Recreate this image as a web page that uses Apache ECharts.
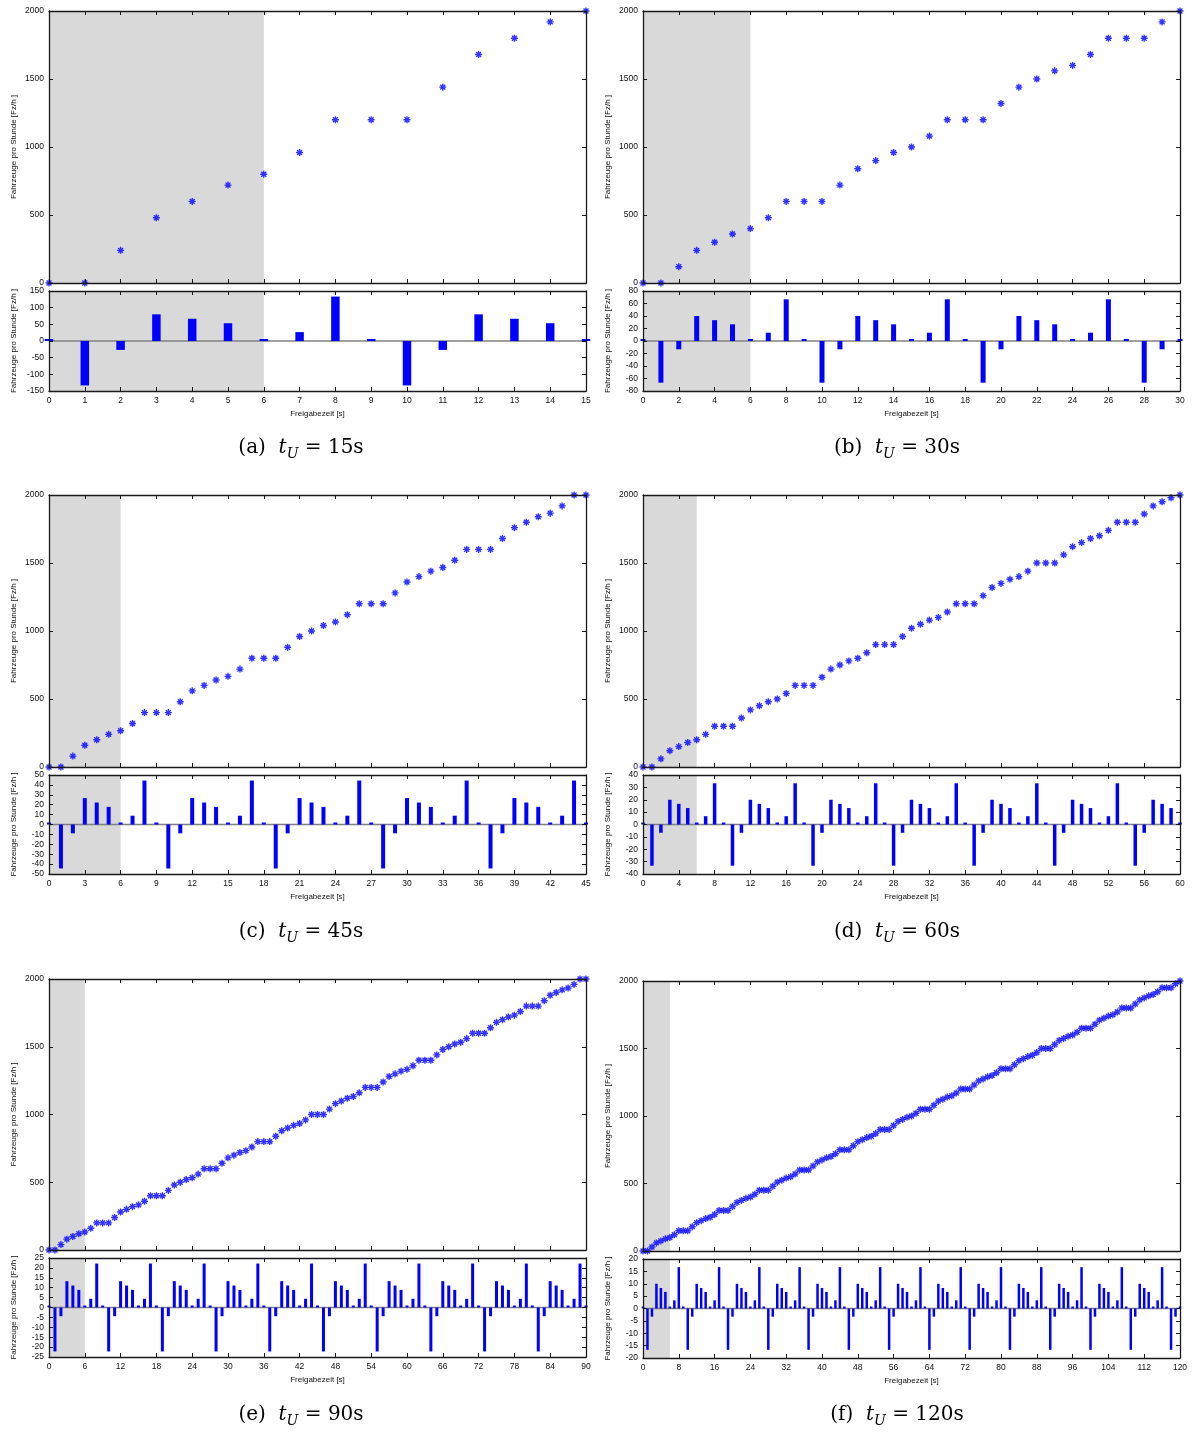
<!DOCTYPE html>
<html>
<head>
<meta charset="utf-8">
<script src="https://cdn.jsdelivr.net/npm/echarts@6/dist/echarts.min.js"></script>
<style>
  html, body { margin: 0; padding: 0; background: #fff; }
  #chart { width: 1192px; height: 1432px; }
</style>
</head>
<body>
<div id="chart"></div>
<script>
// Umlaufzeiten t_U [s] und Beschriftung der Teilbilder
var cycles = [15, 30, 45, 60, 90, 120];
var letters = ['a', 'b', 'c', 'd', 'e', 'f'];

// Fahrzeuge pro Stunde je Freigabezeit 0..t_U (oberes Diagramm)
var flow15 = [0, 0, 240, 480, 600, 720, 800, 960, 1200, 1200, 1200, 1440, 1680, 1800, 1920, 2000];
var flow30 = [0, 0, 120, 240, 300, 360, 400, 480, 600,
  600, 600, 720, 840, 900, 960, 1000, 1080, 1200,
  1200, 1200, 1320, 1440, 1500, 1560, 1600, 1680, 1800,
  1800, 1800, 1920, 2000];
var flow45 = [0, 0, 80, 160, 200, 240, 266.7, 320, 400,
  400, 400, 480, 560, 600, 640, 666.7, 720, 800,
  800, 800, 880, 960, 1000, 1040, 1066.7, 1120, 1200,
  1200, 1200, 1280, 1360, 1400, 1440, 1466.7, 1520, 1600,
  1600, 1600, 1680, 1760, 1800, 1840, 1866.7, 1920, 2000,
  2000];
var flow60 = [0, 0, 60, 120, 150, 180, 200, 240, 300,
  300, 300, 360, 420, 450, 480, 500, 540, 600,
  600, 600, 660, 720, 750, 780, 800, 840, 900,
  900, 900, 960, 1020, 1050, 1080, 1100, 1140, 1200,
  1200, 1200, 1260, 1320, 1350, 1380, 1400, 1440, 1500,
  1500, 1500, 1560, 1620, 1650, 1680, 1700, 1740, 1800,
  1800, 1800, 1860, 1920, 1950, 1980, 2000];
var flow90 = [0, 0, 40, 80, 100, 120, 133.3, 160, 200,
  200, 200, 240, 280, 300, 320, 333.3, 360, 400,
  400, 400, 440, 480, 500, 520, 533.3, 560, 600,
  600, 600, 640, 680, 700, 720, 733.3, 760, 800,
  800, 800, 840, 880, 900, 920, 933.3, 960, 1000,
  1000, 1000, 1040, 1080, 1100, 1120, 1133.3, 1160, 1200,
  1200, 1200, 1240, 1280, 1300, 1320, 1333.3, 1360, 1400,
  1400, 1400, 1440, 1480, 1500, 1520, 1533.3, 1560, 1600,
  1600, 1600, 1640, 1680, 1700, 1720, 1733.3, 1760, 1800,
  1800, 1800, 1840, 1880, 1900, 1920, 1933.3, 1960, 2000,
  2000];
var flow120 = [0, 0, 30, 60, 75, 90, 100, 120, 150,
  150, 150, 180, 210, 225, 240, 250, 270, 300,
  300, 300, 330, 360, 375, 390, 400, 420, 450,
  450, 450, 480, 510, 525, 540, 550, 570, 600,
  600, 600, 630, 660, 675, 690, 700, 720, 750,
  750, 750, 780, 810, 825, 840, 850, 870, 900,
  900, 900, 930, 960, 975, 990, 1000, 1020, 1050,
  1050, 1050, 1080, 1110, 1125, 1140, 1150, 1170, 1200,
  1200, 1200, 1230, 1260, 1275, 1290, 1300, 1320, 1350,
  1350, 1350, 1380, 1410, 1425, 1440, 1450, 1470, 1500,
  1500, 1500, 1530, 1560, 1575, 1590, 1600, 1620, 1650,
  1650, 1650, 1680, 1710, 1725, 1740, 1750, 1770, 1800,
  1800, 1800, 1830, 1860, 1875, 1890, 1900, 1920, 1950,
  1950, 1950, 1980, 2000];

// Abweichung Fahrzeuge pro Stunde (unteres Diagramm)
var dev15 = [0, -133.3, -26.7, 80, 66.7, 53.3, 0, 26.7, 133.3, 0, -133.3, -26.7, 80, 66.7, 53.3, 0];
var dev30 = [0, -66.7, -13.3, 40, 33.3, 26.7, 0, 13.3, 66.7,
  0, -66.7, -13.3, 40, 33.3, 26.7, 0, 13.3, 66.7,
  0, -66.7, -13.3, 40, 33.3, 26.7, 0, 13.3, 66.7,
  0, -66.7, -13.3, 0];
var dev45 = [0, -44.4, -8.9, 26.7, 22.2, 17.8, 0, 8.9, 44.4,
  0, -44.4, -8.9, 26.7, 22.2, 17.8, 0, 8.9, 44.4,
  0, -44.4, -8.9, 26.7, 22.2, 17.8, 0, 8.9, 44.4,
  0, -44.4, -8.9, 26.7, 22.2, 17.8, 0, 8.9, 44.4,
  0, -44.4, -8.9, 26.7, 22.2, 17.8, 0, 8.9, 44.4,
  0];
var dev60 = [0, -33.3, -6.7, 20, 16.7, 13.3, 0, 6.7, 33.3,
  0, -33.3, -6.7, 20, 16.7, 13.3, 0, 6.7, 33.3,
  0, -33.3, -6.7, 20, 16.7, 13.3, 0, 6.7, 33.3,
  0, -33.3, -6.7, 20, 16.7, 13.3, 0, 6.7, 33.3,
  0, -33.3, -6.7, 20, 16.7, 13.3, 0, 6.7, 33.3,
  0, -33.3, -6.7, 20, 16.7, 13.3, 0, 6.7, 33.3,
  0, -33.3, -6.7, 20, 16.7, 13.3, 0];
var dev90 = [0, -22.2, -4.4, 13.3, 11.1, 8.9, 0, 4.4, 22.2,
  0, -22.2, -4.4, 13.3, 11.1, 8.9, 0, 4.4, 22.2,
  0, -22.2, -4.4, 13.3, 11.1, 8.9, 0, 4.4, 22.2,
  0, -22.2, -4.4, 13.3, 11.1, 8.9, 0, 4.4, 22.2,
  0, -22.2, -4.4, 13.3, 11.1, 8.9, 0, 4.4, 22.2,
  0, -22.2, -4.4, 13.3, 11.1, 8.9, 0, 4.4, 22.2,
  0, -22.2, -4.4, 13.3, 11.1, 8.9, 0, 4.4, 22.2,
  0, -22.2, -4.4, 13.3, 11.1, 8.9, 0, 4.4, 22.2,
  0, -22.2, -4.4, 13.3, 11.1, 8.9, 0, 4.4, 22.2,
  0, -22.2, -4.4, 13.3, 11.1, 8.9, 0, 4.4, 22.2,
  0];
var dev120 = [0, -16.7, -3.3, 10, 8.3, 6.7, 0, 3.3, 16.7,
  0, -16.7, -3.3, 10, 8.3, 6.7, 0, 3.3, 16.7,
  0, -16.7, -3.3, 10, 8.3, 6.7, 0, 3.3, 16.7,
  0, -16.7, -3.3, 10, 8.3, 6.7, 0, 3.3, 16.7,
  0, -16.7, -3.3, 10, 8.3, 6.7, 0, 3.3, 16.7,
  0, -16.7, -3.3, 10, 8.3, 6.7, 0, 3.3, 16.7,
  0, -16.7, -3.3, 10, 8.3, 6.7, 0, 3.3, 16.7,
  0, -16.7, -3.3, 10, 8.3, 6.7, 0, 3.3, 16.7,
  0, -16.7, -3.3, 10, 8.3, 6.7, 0, 3.3, 16.7,
  0, -16.7, -3.3, 10, 8.3, 6.7, 0, 3.3, 16.7,
  0, -16.7, -3.3, 10, 8.3, 6.7, 0, 3.3, 16.7,
  0, -16.7, -3.3, 10, 8.3, 6.7, 0, 3.3, 16.7,
  0, -16.7, -3.3, 10, 8.3, 6.7, 0, 3.3, 16.7,
  0, -16.7, -3.3, 0];

var flows = [flow15, flow30, flow45, flow60, flow90, flow120];
var devs = [dev15, dev30, dev45, dev60, dev90, dev120];

// Achsteilung
var xSteps = [1, 2, 3, 4, 6, 8];
var flowMax = 2000, flowStep = 500;
var devMax = [150, 80, 50, 40, 25, 20];
var devSteps = [50, 20, 10, 10, 5, 5];
var shade = [0, 6]; // grau hinterlegter Bereich

// Lage der Teilbilder auf der Seite
var plotW = 537;
var layout = [
  {left: 49,  t1: 11,  h1: 272, t2: 291,  h2: 100, cx: 301, cy: 448, bw: 8.5},
  {left: 643, t1: 11,  h1: 272, t2: 291,  h2: 100, cx: 897, cy: 448, bw: 5},
  {left: 49,  t1: 495, h1: 272, t2: 775,  h2: 99,  cx: 301, cy: 932, bw: 4},
  {left: 643, t1: 495, h1: 272, t2: 775,  h2: 99,  cx: 897, cy: 932, bw: 3.5},
  {left: 49,  t1: 979, h1: 271, t2: 1258, h2: 99,  cx: 301, cy: 1415, bw: 3},
  {left: 643, t1: 981, h1: 270, t2: 1259, h2: 99,  cx: 897, cy: 1415, bw: 2.5}
];

var axisColor = '#1a1a1a';
var labelFont = 'Liberation Sans, Arial, sans-serif';
var starPath = 'path://M0 5H10M5 0V10M1.5 1.5L8.5 8.5M8.5 1.5L1.5 8.5';
var yName = 'Fahrzeuge pro Stunde [Fz/h ]';

var grids = [], xAxes = [], yAxes = [], series = [], graphics = [];

function plain(v) { return String(v); }

function addGrid(left, top, height, xmax, xstep, ymin, ymax, ystep, withXLabels) {
    var gi = grids.length;
    grids.push({left: left, top: top, width: plotW, height: height,
        containLabel: false, outerBoundsMode: 'none', show: false});

    var line = {show: true, onZero: false, lineStyle: {color: axisColor, width: 1.3}};
    var tick = {show: true, inside: true, length: 4, lineStyle: {color: axisColor, width: 1}};
    var lbl = {fontSize: 8.5, fontFamily: labelFont, color: '#111', showMinLabel: true,
        showMaxLabel: true, formatter: plain};

    xAxes.push({gridIndex: gi, type: 'value', position: 'bottom', min: 0, max: xmax, interval: xstep, z: 5,
        axisLine: line, axisTick: tick, splitLine: {show: false},
        axisLabel: Object.assign({show: withXLabels, margin: 5}, lbl),
        name: withXLabels ? 'Freigabezeit [s]' : '', nameLocation: 'middle', nameGap: 19,
        nameTextStyle: {fontSize: 8, fontFamily: labelFont, color: '#111'}});
    xAxes.push({gridIndex: gi, type: 'value', position: 'top', min: 0, max: xmax, interval: xstep, z: 5,
        axisLine: line, axisTick: tick, splitLine: {show: false}, axisLabel: {show: false}});

    yAxes.push({gridIndex: gi, type: 'value', position: 'left', min: ymin, max: ymax, interval: ystep, z: 5,
        axisLine: line, axisTick: tick, splitLine: {show: false},
        axisLabel: Object.assign({margin: 5}, lbl),
        name: yName, nameLocation: 'middle', nameGap: 31, nameRotate: 90,
        nameTextStyle: {fontSize: 8, fontFamily: labelFont, color: '#111'}});
    yAxes.push({gridIndex: gi, type: 'value', position: 'right', min: ymin, max: ymax, interval: ystep, z: 5,
        axisLine: line, axisTick: tick, splitLine: {show: false}, axisLabel: {show: false}});

    // grau hinterlegte Anlaufphase
    series.push({type: 'line', xAxisIndex: 2 * gi, yAxisIndex: 2 * gi, data: [], z: 1, silent: true,
        markArea: {silent: true, itemStyle: {color: '#d9d9d9', opacity: 1},
            data: [[{xAxis: shade[0]}, {xAxis: shade[1]}]]}});
    return gi;
}

for (var p = 0; p < cycles.length; p++) {
    var L = layout[p];
    var tu = cycles[p];

    // oben: Fahrzeuge pro Stunde
    var g1 = addGrid(L.left, L.t1, L.h1, tu, xSteps[p], 0, flowMax, flowStep, false);
    series.push({
        type: 'scatter', xAxisIndex: 2 * g1, yAxisIndex: 2 * g1, z: 3, clip: false,
        symbol: starPath, symbolSize: 7,
        itemStyle: {color: 'rgba(0,0,0,0)', borderColor: '#0000ff', borderWidth: 1.4},
        data: flows[p].map(function (v, i) { return [i, v]; })
    });

    // unten: Abweichung
    var g2 = addGrid(L.left, L.t2, L.h2, tu, xSteps[p], -devMax[p], devMax[p], devSteps[p], true);
    series.push({type: 'line', xAxisIndex: 2 * g2, yAxisIndex: 2 * g2, z: 2, silent: true,
        symbol: 'none', lineStyle: {color: '#808080', width: 1.6},
        data: [[0, 0], [tu, 0]]});
    series.push({
        type: 'bar', xAxisIndex: 2 * g2, yAxisIndex: 2 * g2, z: 3,
        barWidth: L.bw, barMinHeight: 2,
        itemStyle: {color: '#0000ff'},
        data: devs[p].map(function (v, i) { return [i, v]; })
    });

    graphics.push({
        type: 'text', x: L.cx, y: L.cy,
        style: {
            text: '{n|(' + letters[p] + ')}{n|  }{i|t}{s|U}{n| = ' + tu + 's}',
            align: 'center', verticalAlign: 'middle',
            rich: {
                n: {fontFamily: 'DejaVu Serif', fontSize: 20, lineHeight: 26, color: '#000'},
                i: {fontFamily: 'DejaVu Serif', fontStyle: 'italic', fontSize: 20, lineHeight: 26, color: '#000'},
                s: {fontFamily: 'DejaVu Serif', fontStyle: 'italic', fontSize: 14, lineHeight: 16,
                    verticalAlign: 'bottom', color: '#000'}
            }
        }
    });
}

var chart = echarts.init(document.getElementById('chart'), null, {renderer: 'canvas'});
chart.setOption({
    animation: false,
    backgroundColor: '#fff',
    grid: grids,
    xAxis: xAxes,
    yAxis: yAxes,
    series: series,
    graphic: graphics
});
</script>
</body>
</html>
